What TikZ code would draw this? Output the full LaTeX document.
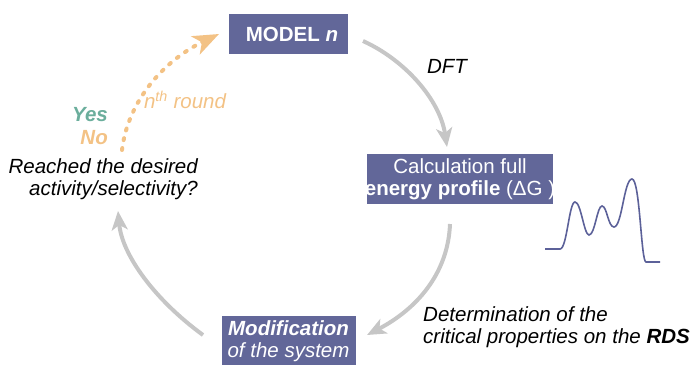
\documentclass[tikz,border=0pt]{standalone}
\usepackage{fontspec}
\setmainfont{Liberation Sans}
\usetikzlibrary{arrows.meta}
\definecolor{boxc}{RGB}{98,103,153}
\definecolor{curvec}{RGB}{92,97,153}
\definecolor{orangec}{RGB}{243,194,133}
\definecolor{tealc}{RGB}{107,174,156}
\definecolor{greyc}{RGB}{198,198,198}
\begin{document}
\begin{tikzpicture}[x=1pt,y=-1pt,
  every node/.style={inner sep=0pt,font=\fontsize{20.5}{22}\selectfont},
  stepbox/.style={fill=boxc,draw=none},
  cyc/.style={draw=greyc,line width=4pt,-{Stealth[length=19pt,width=16pt,inset=5pt]}},
  nround/.style={draw=orangec,line width=4pt,line cap=round,dash pattern=on 2pt off 8pt,
    -{Stealth[length=26pt,width=20pt,inset=7pt,fill=orangec]}},
  lbl/.style={text=black,font=\fontsize{20.5}{22}\selectfont\itshape}]
\useasboundingbox (0,0) rectangle (692,364);

% boxes
\node[stepbox,minimum width=119pt,minimum height=40pt] (model) at (288.5,34) {};
\node[text=white,font=\fontsize{20.5}{22}\selectfont\bfseries] (modeltxt) at (292,34) {MODEL \textit{n}};

\node[stepbox,minimum width=186pt,minimum height=50pt] (calc) at (460,179) {};
\begin{scope}
\clip (calc.south west) rectangle (calc.north east);
\node[text=white,align=center] (calctxt) at (460,179.5) {Calculation full\\\textbf{energy profile} (ΔG )};
\end{scope}

\node[stepbox,minimum width=134pt,minimum height=54pt] (modif) at (289,343) {};
\node[text=white,align=center,font=\fontsize{20.5}{22}\selectfont\itshape] (modiftxt) at (288.5,341.5) {\textbf{Modification}\\of the system};

% labels
\node[lbl] (dft) at (447,66) {DFT};
\node[lbl,anchor=east,align=right] (reached) at (198,179.5) {Reached the desired\\activity/selectivity?};
\node[lbl,anchor=west,align=left] (determ) at (423,327) {Determination of the\\critical properties on the \textbf{RDS}};
\node[text=orangec,font=\fontsize{20.5}{22}\selectfont\itshape] (nround) at (185,100) {n\textsuperscript{th} round};
\node[text=tealc,font=\fontsize{20.5}{22}\selectfont\bfseries\itshape,anchor=east] (yes) at (108,115) {Yes};
\node[text=orangec,font=\fontsize{20.5}{22}\selectfont\bfseries\itshape,anchor=east] (no) at (108,138) {No};

% connector ends
\coordinate (a1s) at (363,41);
\coordinate (a1e) at (447,147);
\coordinate (a2s) at (450,224);
\coordinate (a2e) at (367,335);
\coordinate (a3s) at (203,335);
\coordinate (a3e) at (118,211);
\coordinate (a4s) at (122,150);
\coordinate (a4e) at (219,34);

\draw[cyc] (a1s) .. controls (405,60) and (440,100) .. (a1e);
\draw[cyc] (a2s) .. controls (448,275) and (415,310) .. (a2e);
\draw[cyc] (a3s) .. controls (155,300) and (122,255) .. (a3e);
\draw[nround] (a4s) .. controls (128,100) and (165,60) .. (a4e);

% energy profile
\draw[curvec,line width=1.6pt] (545,249) -- (560,249)
  .. controls (567,249) and (569,202) .. (575,202)
  .. controls (581,202) and (584,235) .. (589,235)
  .. controls (595,235) and (597,206) .. (602,206)
  .. controls (607,206) and (608,227) .. (614,227)
  .. controls (622,227) and (624,179) .. (632,179)
  .. controls (640,179) and (641,262) .. (646,262) -- (660,262);
\end{tikzpicture}
\end{document}
